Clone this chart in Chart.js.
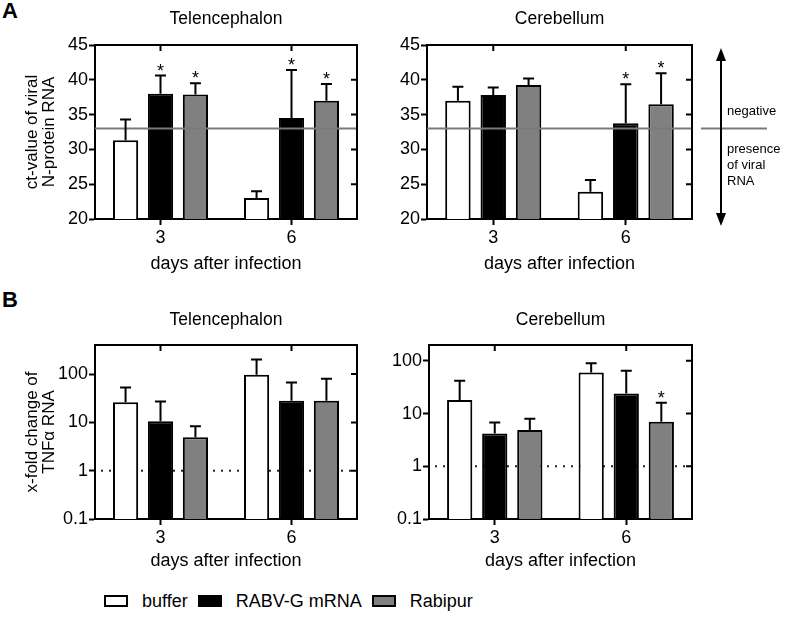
<!DOCTYPE html>
<html><head><meta charset="utf-8">
<script src="https://cdn.jsdelivr.net/npm/chart.js@4.4.1/dist/chart.umd.min.js"></script>
<style>
body{margin:0;background:#fff;width:785px;height:620px;position:relative;overflow:hidden;font-family:"Liberation Sans",Arial,sans-serif;color:#000;}
canvas{position:absolute;}
.lbl{position:absolute;font-weight:bold;font-size:22px;line-height:22px;}
#legend{position:absolute;left:104px;top:591px;display:flex;align-items:center;font-size:18px;height:20px;}
#legend .box{width:24px;height:12px;border:2px solid #000;box-sizing:border-box;margin-right:14px;}
#legend .txt{margin-right:10px;white-space:nowrap;}
</style></head>
<body>
<div class="lbl" style="left:2px;top:0px">A</div>
<div class="lbl" style="left:2px;top:289px">B</div>
<canvas id="aTel" width="370" height="280" style="left:0;top:0"></canvas>
<canvas id="aCer" width="415" height="280" style="left:370px;top:0"></canvas>
<canvas id="bTel" width="370" height="290" style="left:0;top:290px"></canvas>
<canvas id="bCer" width="330" height="290" style="left:370px;top:290px"></canvas>
<div id="legend"></div>
<script>
// ---------- data ----------
const days = ['3', '6'];
const groups = ['buffer', 'RABV-G mRNA', 'Rabipur'];
const groupColors = ['#ffffff', '#000000', '#808080'];

// Panel A: ct-value of viral N-protein RNA (mean, SD)
const telCtBuffer = [31.3, 23.0];
const telCtRabvG = [38.0, 34.5];
const telCtRabipur = [37.9, 37.0];
const telCtBufferSd = [3.0, 1.0];
const telCtRabvGSd = [2.6, 6.9];
const telCtRabipurSd = [1.6, 2.4];
const telCtRabvGStar = [true, true];
const telCtRabipurStar = [true, true];

const cerCtBuffer = [37.0, 23.9];
const cerCtRabvG = [37.8, 33.75];
const cerCtRabipur = [39.25, 36.5];
const cerCtBufferSd = [2.0, 1.7];
const cerCtRabvGSd = [1.1, 5.6];
const cerCtRabipurSd = [0.95, 4.45];
const cerCtRabvGStar = [false, true];
const cerCtRabipurStar = [false, true];

const ctTicks = [20, 25, 30, 35, 40, 45];
const ctNegativeCutoff = 33;

// Panel B: x-fold change of TNFalpha RNA (mean, SD)
const telTnfBuffer = [26, 97];
const telTnfRabvG = [10.6, 28];
const telTnfRabipur = [4.9, 28];
const telTnfBufferSd = [27, 103];
const telTnfRabvGSd = [16.4, 39];
const telTnfRabipurSd = [3.4, 52];

const cerTnfBuffer = [18, 60];
const cerTnfRabvG = [4.2, 24];
const cerTnfRabipur = [4.9, 7.0];
const cerTnfBufferSd = [24, 30];
const cerTnfRabvGSd = [2.6, 41];
const cerTnfRabipurSd = [3.1, 9];
const cerTnfRabipurStar = [false, true];

const tnfTicks = [0.1, 1, 10, 100];
const tnfBaseline = 1;

// ---------- helpers ----------
const FONT = '"Liberation Sans", Arial, sans-serif';
Chart.defaults.font.family = FONT;
Chart.defaults.color = '#000';

const extras = {
  id: 'extras',
  beforeDatasetsDraw(chart, args, o) {
    const {ctx, chartArea: a, scales: {y}} = chart;
    if (o.dotted != null) {
      const py = y.getPixelForValue(o.dotted);
      ctx.save();
      ctx.strokeStyle = '#222'; ctx.lineWidth = 2; ctx.setLineDash([2, 6]);
      ctx.beginPath(); ctx.moveTo(a.left + 6, py); ctx.lineTo(a.right, py); ctx.stroke();
      ctx.restore();
    }
  },
  afterDatasetsDraw(chart, args, o) {
    const {ctx, chartArea: a, scales: {y}} = chart;
    ctx.save();
    if (o.solid != null) {
      const py = y.getPixelForValue(o.solid);
      ctx.strokeStyle = '#7a7a7a'; ctx.lineWidth = 2;
      ctx.beginPath(); ctx.moveTo(a.left, py); ctx.lineTo(a.right, py); ctx.stroke();
    }
    ctx.strokeStyle = '#000'; ctx.lineWidth = 2; ctx.fillStyle = '#000';
    ctx.font = '18px ' + FONT; ctx.textAlign = 'center'; ctx.textBaseline = 'alphabetic';
    chart.data.datasets.forEach((ds, di) => {
      const meta = chart.getDatasetMeta(di);
      meta.data.forEach((bar, i) => {
        const py = y.getPixelForValue(ds.data[i] + ds.sd[i]);
        ctx.beginPath();
        ctx.moveTo(bar.x, bar.y); ctx.lineTo(bar.x, py);
        ctx.moveTo(bar.x - 5.5, py); ctx.lineTo(bar.x + 5.5, py);
        ctx.stroke();
        if (ds.stars && ds.stars[i]) ctx.fillText('*', bar.x, py + 1);
      });
    });
    ctx.restore();
  },
  afterDraw(chart, args, o) {
    const {ctx, chartArea: a, scales: {x, y}} = chart;
    ctx.save();
    ctx.strokeStyle = '#000'; ctx.lineWidth = 2;
    ctx.beginPath();
    ctx.moveTo(a.left - 1, a.top); ctx.lineTo(a.right, a.top); ctx.lineTo(a.right, a.bottom + 1);
    // inward mirror ticks
    y.ticks.forEach(t => {
      const py = y.getPixelForValue(t.value);
      if (py > a.top + 2 && py < a.bottom - 2) { ctx.moveTo(a.right - 6, py); ctx.lineTo(a.right, py); }
    });
    chart.data.labels.forEach((l, i) => {
      const px = x.getPixelForValue(i);
      ctx.moveTo(px, a.top); ctx.lineTo(px, a.top + 6);
    });
    ctx.stroke();
    // panel title
    ctx.fillStyle = '#000'; ctx.font = '17.5px ' + FONT; ctx.textAlign = 'center'; ctx.textBaseline = 'middle';
    ctx.fillText(o.title, (a.left + a.right) / 2, o.titleY);
    if (o.annot) {
      const ax = a.right + 29;
      const py = y.getPixelForValue(o.solid);
      ctx.strokeStyle = '#7a7a7a';
      ctx.beginPath(); ctx.moveTo(a.right + 9, py); ctx.lineTo(a.right + 75, py); ctx.stroke();
      ctx.strokeStyle = '#000'; ctx.fillStyle = '#000'; ctx.lineWidth = 2;
      const t = a.top + 3, b = a.bottom + 7;
      ctx.beginPath(); ctx.moveTo(ax, t + 8); ctx.lineTo(ax, b - 8); ctx.stroke();
      ctx.beginPath(); ctx.moveTo(ax, t); ctx.lineTo(ax - 5, t + 13); ctx.lineTo(ax + 5, t + 13); ctx.closePath(); ctx.fill();
      ctx.beginPath(); ctx.moveTo(ax, b); ctx.lineTo(ax - 5, b - 13); ctx.lineTo(ax + 5, b - 13); ctx.closePath(); ctx.fill();
      ctx.font = '13px ' + FONT; ctx.textAlign = 'left'; ctx.textBaseline = 'middle';
      ctx.fillText('negative', ax + 6, py - 17);
      ctx.fillText('presence', ax + 6, py + 21);
      ctx.fillText('of viral', ax + 6, py + 37);
      ctx.fillText('RNA', ax + 6, py + 53);
    }
    ctx.restore();
  }
};

function makeDatasets(vals, sds, stars) {
  return groups.map((g, i) => ({
    label: g,
    data: vals[i],
    sd: sds[i],
    stars: stars[i],
    backgroundColor: groupColors[i],
    borderColor: '#000',
    borderWidth: 2,
    borderSkipped: 'start',
    categoryPercentage: 0.8,
    barPercentage: 0.72
  }));
}

function makeChart(id, cfg) {
  const isLog = cfg.log;
  const yScale = {
    type: isLog ? 'logarithmic' : 'linear',
    min: isLog ? tnfTicks[0] : ctTicks[0],
    max: cfg.yMax,
    afterFit: s => { s.width = cfg.yWidth; },
    afterBuildTicks: s => { s.ticks = (isLog ? tnfTicks : ctTicks).map(v => ({value: v})); },
    grid: {drawOnChartArea: false, drawTicks: true, tickLength: 6, tickWidth: 2, tickColor: '#000'},
    border: {display: true, width: 2, color: '#000'},
    ticks: {font: {size: 18}, color: '#000', padding: 1, callback: v => String(v), autoSkip: false},
    title: cfg.yTitle ? {display: true, text: cfg.yTitle, font: {size: 17, lineHeight: 1.0}, color: '#000', padding: {top: 24, bottom: 0}} : {display: false}
  };
  return new Chart(document.getElementById(id), {
    type: 'bar',
    data: {labels: days, datasets: cfg.datasets},
    plugins: [extras],
    options: {
      responsive: false, animation: false, devicePixelRatio: 1,
      layout: {padding: cfg.padding},
      plugins: {
        legend: {display: false}, tooltip: {enabled: false}, title: {display: false},
        extras: {title: cfg.title, titleY: cfg.titleY, solid: cfg.solid, dotted: cfg.dotted, annot: cfg.annot}
      },
      scales: {
        x: {
          type: 'category', offset: true,
          afterFit: s => { s.height = cfg.xHeight; },
          grid: {offset: false, drawOnChartArea: false, drawTicks: true, tickLength: 6, tickWidth: 2, tickColor: '#000'},
          border: {display: true, width: 2, color: '#000'},
          ticks: {font: {size: 18}, color: '#000', padding: 2, maxRotation: 0},
          title: {display: true, text: 'days after infection', font: {size: 18}, color: '#000', padding: {top: 0, bottom: cfg.xTitlePad}}
        },
        y: yScale
      }
    }
  });
}

makeChart('aTel', {
  datasets: makeDatasets([telCtBuffer, telCtRabvG, telCtRabipur], [telCtBufferSd, telCtRabvGSd, telCtRabipurSd], [null, telCtRabvGStar, telCtRabipurStar]),
  yMax: 45, yWidth: 95, xHeight: 61, xTitlePad: 5,
  padding: {top: 45, right: 13, left: 0, bottom: 0},
  yTitle: ['ct-value of viral', 'N-protein RNA'],
  title: 'Telencephalon', titleY: 19, solid: ctNegativeCutoff
});
makeChart('aCer', {
  datasets: makeDatasets([cerCtBuffer, cerCtRabvG, cerCtRabipur], [cerCtBufferSd, cerCtRabvGSd, cerCtRabipurSd], [null, cerCtRabvGStar, cerCtRabipurStar]),
  yMax: 45, yWidth: 57, xHeight: 61, xTitlePad: 5,
  padding: {top: 45, right: 93, left: 0, bottom: 0},
  title: 'Cerebellum', titleY: 19, solid: ctNegativeCutoff, annot: true
});
makeChart('bTel', {
  log: true,
  datasets: makeDatasets([telTnfBuffer, telTnfRabvG, telTnfRabipur], [telTnfBufferSd, telTnfRabvGSd, telTnfRabipurSd], [null, null, null]),
  yMax: 400, yWidth: 95, xHeight: 61, xTitlePad: 8,
  padding: {top: 55, right: 13, left: 0, bottom: 0},
  yTitle: ['x-fold change of', 'TNFα RNA'],
  title: 'Telencephalon', titleY: 30, dotted: tnfBaseline
});
makeChart('bCer', {
  log: true,
  datasets: makeDatasets([cerTnfBuffer, cerTnfRabvG, cerTnfRabipur], [cerTnfBufferSd, cerTnfRabvGSd, cerTnfRabipurSd], [null, null, cerTnfRabipurStar]),
  yMax: 200, yWidth: 59, xHeight: 61, xTitlePad: 8,
  padding: {top: 55, right: 8, left: 0, bottom: 0},
  title: 'Cerebellum', titleY: 30, dotted: tnfBaseline
});

// legend
const leg = document.getElementById('legend');
groups.forEach((g, i) => {
  const b = document.createElement('div'); b.className = 'box'; b.style.background = groupColors[i];
  const t = document.createElement('div'); t.className = 'txt'; t.textContent = g;
  leg.appendChild(b); leg.appendChild(t);
});
</script>
</body></html>
